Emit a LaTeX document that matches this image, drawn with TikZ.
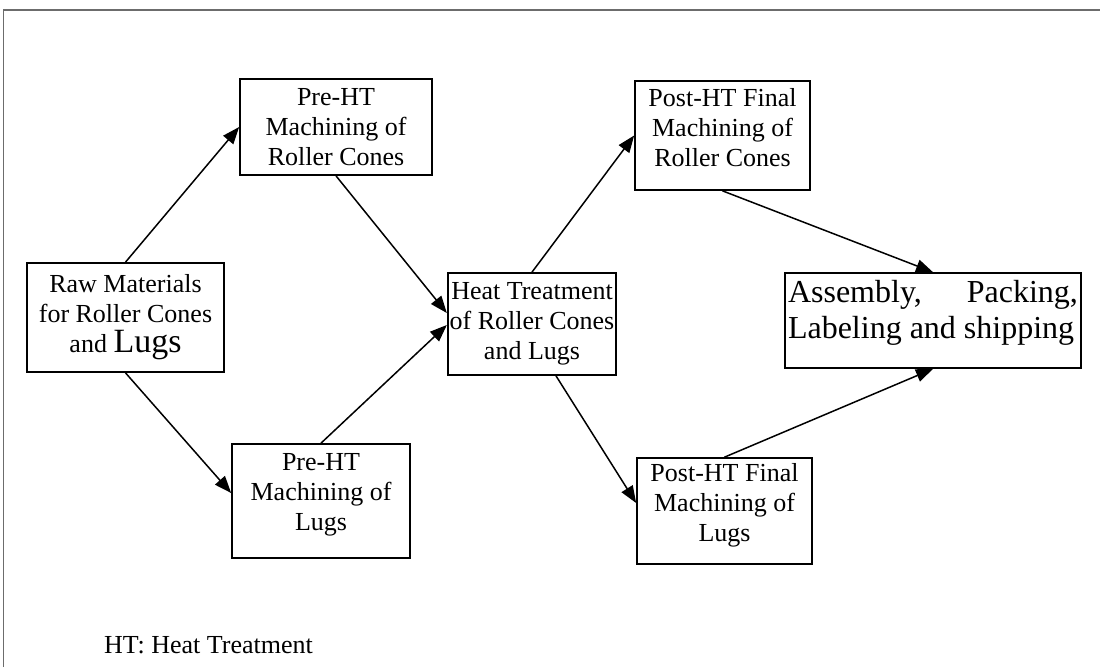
\documentclass[tikz,border=0pt]{standalone}
\usepackage{fontspec}
\setmainfont{Liberation Serif}
\usetikzlibrary{arrows.meta}
\begin{document}
\begin{tikzpicture}[x=1pt,y=-1pt,
  boxnode/.style={draw=black,line width=1.7pt,inner sep=2pt,align=center,
    font=\fontsize{26}{30}\selectfont},
  txtnode/.style={inner sep=0pt,align=center,font=\fontsize{26}{30}\selectfont},
  flow/.style={line width=1.5pt,-{Triangle[length=17pt,width=13pt]}},
  frame/.style={draw=gray!85!black,line width=1.6pt}]
\useasboundingbox (0,0) rectangle (1100,667);
\draw[frame] (3.5,667) -- (3.5,10) -- (1100,10);
% boxes
\node[boxnode,minimum width=197pt,minimum height=109pt] (raw) at (125.5,317.5)
  {Raw Materials\\for Roller Cones\\and {\fontsize{34}{30}\selectfont Lugs}};
\node[boxnode,minimum width=192pt,minimum height=96pt] (prerc) at (336,127)
  {Pre-HT\\Machining of\\Roller Cones};
\node[boxnode,minimum width=178pt,minimum height=114pt] (prelugs) at (321,501) {};
\node[txtnode] (prelugst) at (321,495) {Pre-HT\\Machining of\\Lugs};
\node[boxnode,minimum width=168pt,minimum height=102pt] (ht) at (532,324)
  {Heat Treatment\\of Roller Cones\\and Lugs};
\node[boxnode,minimum width=175pt,minimum height=109pt] (postrc) at (722.5,135.5) {};
\node[txtnode] (postrct) at (722.5,128) {Post-HT Final\\Machining of\\Roller Cones};
\node[boxnode,minimum width=296pt,minimum height=95pt] (asm) at (933,320.5) {};
\node[boxnode,minimum width=175pt,minimum height=106pt] (postlugs) at (724.5,511) {};
\node[txtnode] (postlugst) at (724.5,505) {Post-HT Final\\Machining of\\Lugs};
\node[txtnode,align=left,font=\fontsize{32}{36}\selectfont] (asmt) at (933,313)
  {\hbox to 290pt{Assembly,\hfill Packing,}\\\hbox to 290pt{Labeling and shipping\hfill}};
\node[txtnode,anchor=west] (note) at (104,645) {HT: Heat Treatment};
% connectors
\draw[flow] (raw.north) -- (prerc.west);
\draw[flow] (raw.south) -- ([yshift=8pt]prelugs.west);
\draw[flow] (prerc.south) -- ([yshift=11pt]ht.west);
\draw[flow] (prelugs.north) -- ([yshift=-1pt]ht.west);
\draw[flow] (ht.north) -- (postrc.west);
\draw[flow] ([xshift=24pt]ht.south) -- ([yshift=8pt]postlugs.west);
\draw[flow] (postrc.south) -- (asm.north);
\draw[flow] (postlugs.north) -- (asm.south);
\end{tikzpicture}
\end{document}
